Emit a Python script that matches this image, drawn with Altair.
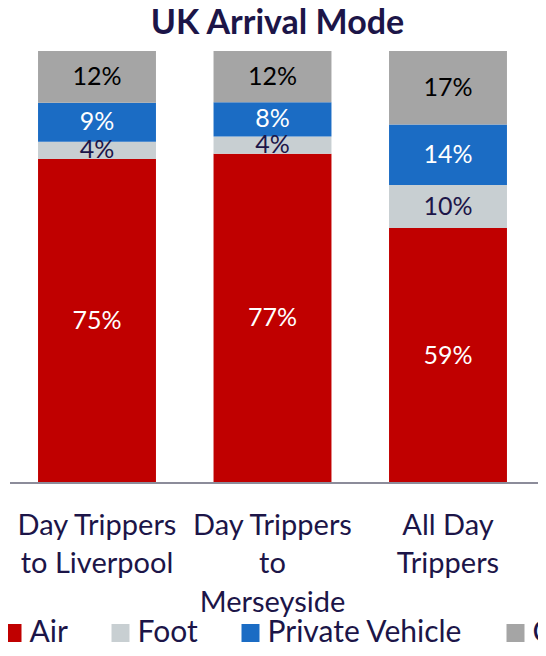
import altair as alt
import pandas as pd

title_text = ["UK Arrival Mode"]
categories = ["Day Trippers|to Liverpool", "Day Trippers|to|Merseyside", "All Day|Trippers"]
modes = ["Air", "Foot", "Private Vehicle", "Coach"]
air = [75, 77, 59]
foot = [4, 4, 10]
private_vehicle = [9, 8, 14]
coach = [12, 12, 17]

bar_colors = ["#C00000", "#C8CFD2", "#1B6CC4", "#A5A5A5"]
text_colors = ["#FFFFFF", "#1C1548", "#FFFFFF", "#000000"]
navy = "#1C1548"
FONT = "Lato"

series = [air, foot, private_vehicle, coach]
rows = []
for mi, (m, vals) in enumerate(zip(modes, series)):
    for c, v in zip(categories, vals):
        rows.append({"cat": c, "mode": m, "value": v, "ord": mi, "label": f"{v}%"})
df = pd.DataFrame(rows)

x_enc = alt.X(
    "cat:N",
    sort=categories,
    scale=alt.Scale(paddingInner=0.328, paddingOuter=0.164),
    axis=alt.Axis(
        title=None,
        domain=False,
        ticks=False,
        labelAngle=0,
        labelExpr="split(datum.label, '|')",
        labelFont=FONT,
        labelFontSize=29,
        labelColor=navy,
        labelLineHeight=38.5,
        labelPadding=51,
        labelBaseline="alphabetic",
        labelLimit=400,
    ),
)

bars = alt.Chart(df).mark_bar().encode(
    x=x_enc,
    y=alt.Y("value:Q", stack="normalize", axis=None),
    color=alt.Color(
        "mode:N",
        scale=alt.Scale(domain=modes, range=bar_colors),
        legend=alt.Legend(
            title=None,
            orient="none",
            legendX=-11.75,
            legendY=567,
            direction="horizontal",
            symbolType="square",
            symbolSize=324,
            symbolStrokeWidth=0,
            symbolOpacity=1,
            labelFont=FONT,
            labelFontSize=30,
            labelColor=navy,
            labelOffset=2,
            columnPadding=37,
            labelLimit=500,
            padding=0,
        ),
    ),
    order=alt.Order("ord:Q", sort="ascending"),
)

labels = (
    alt.Chart(df)
    .transform_stack(
        stack="value",
        groupby=["cat"],
        as_=["y0", "y1"],
        sort=[alt.SortField("ord", order="ascending")],
        offset="normalize",
    )
    .transform_calculate(mid="(datum.y0 + datum.y1) / 2")
    .mark_text(font=FONT, fontSize=25, baseline="middle", align="center")
    .encode(
        x=alt.X("cat:N", sort=categories),
        y=alt.Y("mid:Q", scale=alt.Scale(domain=[0, 1])),
        text="label:N",
        color=alt.Color("mode:N", scale=alt.Scale(domain=modes, range=text_colors), legend=None),
    )
)

baseline = alt.Chart(pd.DataFrame({"v": [0]})).mark_rule(color="#8C8C9A", strokeWidth=2).encode(
    x=alt.value(0.75), x2=alt.value(530), y=alt.value(432)
)

title = alt.Chart(pd.DataFrame({"t": title_text})).mark_text(
    font=FONT, fontSize=34, fontWeight="bold", color=navy, align="center", baseline="alphabetic"
).encode(text="t:N", x=alt.value(268.25), y=alt.value(-17))

chart = (
    alt.layer(bars, labels, baseline, title)
    .resolve_scale(color="independent")
    .properties(
        width=526.5,
        height=432,
        autosize=alt.AutoSizeParams(type="none"),
        padding={"left": 1.25, "top": 43, "right": 2.25, "bottom": 159},
    )
    .configure_view(stroke=None)
)

chart.save("out.html", embed_options={"renderer": "svg", "actions": False})
